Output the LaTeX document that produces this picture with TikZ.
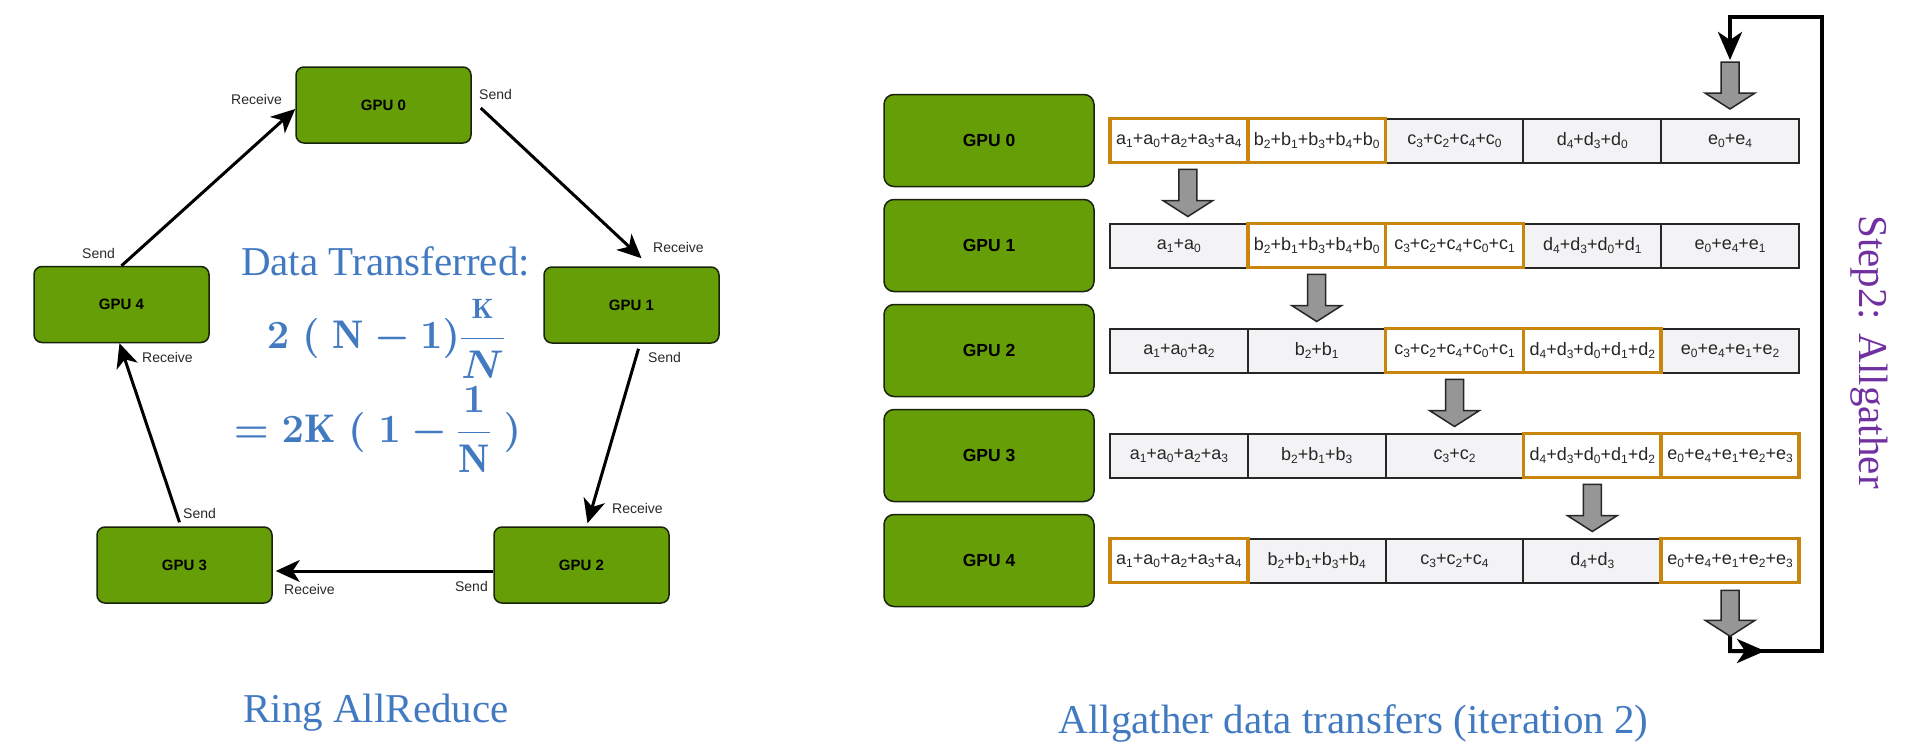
\RequirePackage{fix-cm}
\documentclass[tikz,border=0pt]{standalone}
\usepackage{amsmath}
\usepackage{fontspec}
\usetikzlibrary{arrows.meta,calc}
\newfontfamily\sansf{Liberation Sans}
\newfontfamily\seriff{Liberation Serif}
\definecolor{gpugreen}{RGB}{102,158,8}
\definecolor{gpuborder}{RGB}{25,35,10}
\definecolor{cellfill}{RGB}{243,243,245}
\definecolor{hl}{RGB}{200,135,12}
\definecolor{tblue}{RGB}{66,122,194}
\definecolor{tpurple}{RGB}{112,48,160}
\definecolor{garrowfill}{RGB}{150,150,150}
\definecolor{lbl}{RGB}{40,40,40}
\newcommand\lo[1]{\raisebox{-0.3ex}{\fontsize{12}{12}\selectfont #1}}
\newcommand\garrow[2]{\draw[garrow] let \p1=(#1), \p2=(#2) in
  (\x1-9pt,\y1) -- (\x1+9pt,\y1) -- (\x1+9pt,\y2+16pt) -- (\x1+25pt,\y2+16pt)
  -- (\x1,\y2) -- (\x1-25pt,\y2+16pt) -- (\x1-9pt,\y2+16pt) -- cycle;}
\begin{document}
\begin{tikzpicture}[x=1pt,y=-1pt,
  gpuL/.style={draw=gpuborder, line width=1.5pt, fill=gpugreen, rounded corners=8pt,
    minimum width=175pt, minimum height=76pt, inner sep=0pt,
    font=\sansf\bfseries\fontsize{15}{15}\selectfont},
  gpuR/.style={gpuL, rounded corners=10pt, minimum width=210pt, minimum height=92pt,
    font=\sansf\bfseries\fontsize{17.5}{17.5}\selectfont},
  lab/.style={inner sep=0pt, text=lbl, font=\sansf\fontsize{14}{14}\selectfont},
  ring/.style={line width=3pt, -{Stealth[length=24pt,width=22pt,inset=7pt]}},
  cell/.style={draw=black!85, line width=2pt, fill=cellfill, minimum width=137.8pt,
    minimum height=44pt, inner sep=0pt, text=black!85,
    font=\sansf\fontsize{18}{18}\selectfont},
  hcell/.style={cell, draw=hl, line width=3.5pt, fill=white},
  garrow/.style={draw=black!85, line width=1.5pt, fill=garrowfill, line join=miter},
  loopline/.style={line width=4pt, line join=miter},
  loophead/.style={loopline, -{Stealth[length=28pt,width=24pt,inset=8pt]}},
  bluetext/.style={inner sep=0pt, text=tblue, font=\seriff\fontsize{41}{41}\selectfont},
  formula/.style={inner sep=0pt, anchor=base, text=tblue, font=\fontsize{40}{48}\selectfont\boldmath}
]
\useasboundingbox (0,0) rectangle (1912,750);

% ---------------- Ring AllReduce ----------------
\node[gpuL] (g0) at (383.5,105) {GPU 0};
\node[gpuL] (g1) at (631.5,305) {GPU 1};
\node[gpuL] (g2) at (581.5,565) {GPU 2};
\node[gpuL] (g3) at (184.5,565) {GPU 3};
\node[gpuL] (g4) at (121.5,304.5) {GPU 4};

\draw[ring] (g4.north) -- ([yshift=-4pt]g0.west);
\draw[ring] ([xshift=9pt,yshift=-3pt]g0.east) -- ([xshift=10pt,yshift=8pt]g1.north);
\draw[ring] ([xshift=7pt,yshift=-5pt]g1.south) -- ([xshift=6pt,yshift=3pt]g2.north);
\draw[ring] ([yshift=-6pt]g2.west) -- ([xshift=3pt,yshift=-6pt]g3.east);
\draw[ring] ([xshift=-5pt,yshift=4pt]g3.north) -- ([xshift=-2pt]g4.south);

\node[lab, anchor=east] (r0) at (282,99) {Receive};
\node[lab, anchor=west] (s0) at (479,94) {Send};
\node[lab, anchor=west] (r1) at (653,247) {Receive};
\node[lab, anchor=west] (s1) at (648,357) {Send};
\node[lab, anchor=west] (r2) at (612,508) {Receive};
\node[lab, anchor=east] (s2) at (488,586) {Send};
\node[lab, anchor=west] (r3) at (284,589) {Receive};
\node[lab, anchor=west] (s3) at (183,513) {Send};
\node[lab, anchor=west] (r4) at (142,357) {Receive};
\node[lab, anchor=west] (s4) at (82,253) {Send};

\node[bluetext, anchor=base] (dt) at (385.5,275) {Data Transferred:};
\node[formula] (f1) at (386,348)
  {$2\;(\;\mathrm{N}-1)\dfrac{\scriptstyle\mathrm{K}}{N}$};
\node[formula] (f2) at (377.5,442)
  {$=2\mathrm{K}\;(\;1-\dfrac{1}{\mathrm{N}}\;)$};

\node[bluetext, anchor=base] (t1) at (376,722) {Ring AllReduce};

% ---------------- Allgather ----------------
\node[gpuR] (G0) at (989,140.5) {GPU 0};
\node[gpuR] (G1) at (989,245.5) {GPU 1};
\node[gpuR] (G2) at (989,350.5) {GPU 2};
\node[gpuR] (G3) at (989,455.5) {GPU 3};
\node[gpuR] (G4) at (989,560.5) {GPU 4};

% plain cells
\node[cell] (c02) at (1454.5,140.5) {c\lo3+c\lo2+c\lo4+c\lo0};
\node[cell] (c03) at (1592.3,140.5) {d\lo4+d\lo3+d\lo0};
\node[cell] (c04) at (1730.1,140.5) {e\lo0+e\lo4};
\node[cell] (c10) at (1178.9,245.5) {a\lo1+a\lo0};
\node[cell] (c13) at (1592.3,245.5) {d\lo4+d\lo3+d\lo0+d\lo1};
\node[cell] (c14) at (1730.1,245.5) {e\lo0+e\lo4+e\lo1};
\node[cell] (c20) at (1178.9,350.5) {a\lo1+a\lo0+a\lo2};
\node[cell] (c21) at (1316.7,350.5) {b\lo2+b\lo1};
\node[cell] (c24) at (1730.1,350.5) {e\lo0+e\lo4+e\lo1+e\lo2};
\node[cell] (c30) at (1178.9,455.5) {a\lo1+a\lo0+a\lo2+a\lo3};
\node[cell] (c31) at (1316.7,455.5) {b\lo2+b\lo1+b\lo3};
\node[cell] (c32) at (1454.5,455.5) {c\lo3+c\lo2};
\node[cell] (c41) at (1316.7,560.5) {b\lo2+b\lo1+b\lo3+b\lo4};
\node[cell] (c42) at (1454.5,560.5) {c\lo3+c\lo2+c\lo4};
\node[cell] (c43) at (1592.3,560.5) {d\lo4+d\lo3};
% highlighted cells
\node[hcell] (c00) at (1178.9,140.5) {a\lo1+a\lo0+a\lo2+a\lo3+a\lo4};
\node[hcell] (c01) at (1316.7,140.5) {b\lo2+b\lo1+b\lo3+b\lo4+b\lo0};
\node[hcell] (c11) at (1316.7,245.5) {b\lo2+b\lo1+b\lo3+b\lo4+b\lo0};
\node[hcell] (c12) at (1454.5,245.5) {c\lo3+c\lo2+c\lo4+c\lo0+c\lo1};
\node[hcell] (c22) at (1454.5,350.5) {c\lo3+c\lo2+c\lo4+c\lo0+c\lo1};
\node[hcell] (c23) at (1592.3,350.5) {d\lo4+d\lo3+d\lo0+d\lo1+d\lo2};
\node[hcell] (c33) at (1592.3,455.5) {d\lo4+d\lo3+d\lo0+d\lo1+d\lo2};
\node[hcell] (c34) at (1730.1,455.5) {e\lo0+e\lo4+e\lo1+e\lo2+e\lo3};
\node[hcell] (c40) at (1178.9,560.5) {a\lo1+a\lo0+a\lo2+a\lo3+a\lo4};
\node[hcell] (c44) at (1730.1,560.5) {e\lo0+e\lo4+e\lo1+e\lo2+e\lo3};

% gray transfer arrows
\garrow{[xshift=9pt,yshift=-5pt]c00.south}{[xshift=9pt,yshift=6pt]c10.north}
\garrow{[yshift=-5pt]c11.south}{[yshift=6pt]c21.north}
\garrow{[yshift=-5pt]c22.south}{[yshift=6pt]c32.north}
\garrow{[yshift=-5pt]c33.south}{[yshift=6pt]c43.north}

% wrap-around loop
\coordinate (botout) at ([yshift=-52pt]c44.south);
\coordinate (lb) at (1730,651);
\coordinate (lr) at (1822,651);
\coordinate (lt) at (1822,17);
\coordinate (ltl) at (1730,17);
\coordinate (topin) at (1730,60);
\garrow{[yshift=-6pt]c44.south}{botout}
\garrow{[yshift=-2pt]topin}{[yshift=8.5pt]c04.north}
\draw[loophead] (botout) -- (lb) -- ($(lb)+(35,0)$);
\draw[loophead] ($(lb)+(30,0)$) -- (lr) -- (lt) -- (ltl) -- (topin);

\node[inner sep=0pt, text=tpurple, font=\seriff\fontsize{41}{41}\selectfont,
  rotate=-90, anchor=base] (st) at (1859,352) {Step2: Allgather};

\node[bluetext, anchor=base] (t2) at (1353.5,733) {Allgather data transfers (iteration 2)};
\end{tikzpicture}
\end{document}
